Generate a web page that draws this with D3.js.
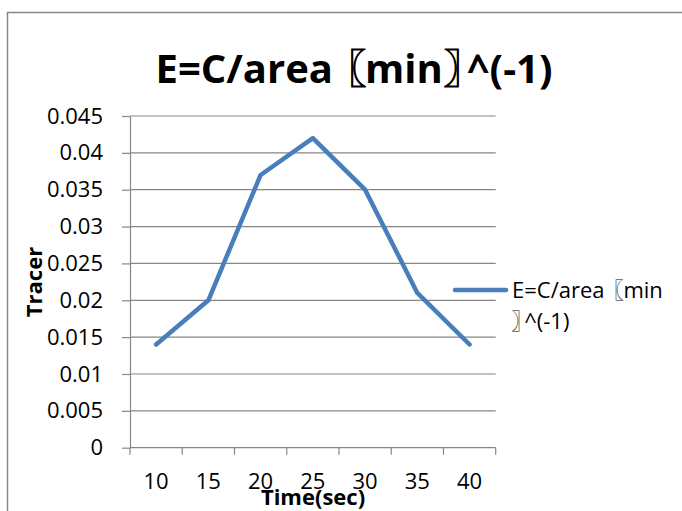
<html>
  <head>
    <meta charset="utf-8">
    <script src="https://d3js.org/d3.v7.min.js"></script>
    <style>
      body { margin: 0; background: #fff; }
      text { font-family: "Open Sans", "Noto Sans CJK SC", sans-serif; }
    </style>
  </head>
  <body>
    <svg width="682" height="511" id="svg1"></svg>
    <script>
    // data
    var categories = ["10", "15", "20", "25", "30", "35", "40"];
    var tracer = [0.014, 0.02, 0.037, 0.042, 0.035, 0.021, 0.014];
    var yTicks = [0, 0.005, 0.01, 0.015, 0.02, 0.025, 0.03, 0.035, 0.04, 0.045];
    var yTickLabels = ["0", "0.005", "0.01", "0.015", "0.02", "0.025", "0.03", "0.035", "0.04", "0.045"];
    var seriesName = "E=C/area \u3016min\u3017^(-1)";

    var svg = d3.select("#svg1");
    var grey = "#868686";

    // chart border (only top and left edges are in view)
    svg.append("rect")
      .attr("x", 7.5).attr("y", 12.5)
      .attr("width", 720).attr("height", 560)
      .attr("fill", "none")
      .attr("stroke", grey)
      .attr("stroke-width", 1.5);

    var plotLeft = 130, plotRight = 495.7, plotTop = 116, plotBottom = 447.7;

    var x = d3.scaleBand().domain(categories).range([plotLeft, plotRight]).padding(0);
    var y = d3.scaleLinear().domain([0, 0.045]).range([plotBottom, plotTop]);

    // gridlines
    svg.append("g")
      .selectAll("line")
      .data(yTicks.slice(1))
      .enter().append("line")
      .attr("x1", plotLeft).attr("x2", plotRight)
      .attr("y1", function(d) { return y(d); })
      .attr("y2", function(d) { return y(d); })
      .attr("stroke", grey)
      .attr("stroke-width", 1.2);

    // y axis
    var yAxis = svg.append("g")
      .attr("transform", "translate(" + plotLeft + ",0)")
      .call(d3.axisLeft(y).tickValues(yTicks).tickSize(8).tickSizeOuter(0).tickPadding(19)
        .tickFormat(function(d, i) { return yTickLabels[i]; }));
    yAxis.select(".domain").attr("stroke", grey).attr("stroke-width", 1.2);
    yAxis.selectAll(".tick line").attr("stroke", grey).attr("stroke-width", 1.2);
    yAxis.selectAll(".tick text")
      .attr("font-size", "22px")
      .attr("font-family", "Open Sans")
      .attr("fill", "#000");

    // x axis: ticks on the band edges, labels in the middle
    var xAxis = svg.append("g")
      .attr("transform", "translate(0," + plotBottom + ")");
    xAxis.append("line")
      .attr("x1", plotLeft).attr("x2", plotRight)
      .attr("stroke", grey).attr("stroke-width", 1.2);
    var edges = categories.map(function(c) { return x(c); }).concat([plotRight]);
    xAxis.selectAll(".xtick")
      .data(edges)
      .enter().append("line")
      .attr("class", "xtick")
      .attr("x1", function(d) { return d; })
      .attr("x2", function(d) { return d; })
      .attr("y1", 0).attr("y2", 7)
      .attr("stroke", grey).attr("stroke-width", 1.2);
    xAxis.selectAll(".xlabel")
      .data(categories)
      .enter().append("text")
      .attr("class", "xlabel")
      .attr("x", function(d) { return x(d) + x.bandwidth() / 2; })
      .attr("y", 41.5)
      .attr("text-anchor", "middle")
      .attr("font-size", "22px")
      .text(function(d) { return d; });

    // the series line
    var line = d3.line()
      .x(function(d, i) { return x(categories[i]) + x.bandwidth() / 2; })
      .y(function(d) { return y(d); });

    svg.append("path")
      .datum(tracer)
      .attr("d", line)
      .attr("fill", "none")
      .attr("stroke", "#4a7ebb")
      .attr("stroke-width", 4.5)
      .attr("stroke-linejoin", "round")
      .attr("stroke-linecap", "round");

    // writes the series name, pulling the wide CJK brackets in tight
    function bracketText(sel, parts, heavy) {
      parts.forEach(function(p) {
        var t = sel.append("tspan").text(p[0]);
        if (p[1]) t.attr("dx", p[1] + "em");
        if (heavy && (p[0] == "\u3016" || p[0] == "\u3017")) {
          t.attr("stroke", "#000").attr("stroke-width", heavy);
        }
      });
    }

    // title
    var title = svg.append("text")
      .attr("x", 354)
      .attr("y", 83)
      .attr("text-anchor", "middle")
      .attr("font-size", "40px")
      .attr("font-weight", "bold");
    bracketText(title, [["E=C/area "], ["\u3016", -0.42], ["min", -0.04], ["\u3017", 0.02], ["^(-1)", -0.42]], 1);

    // axis titles
    svg.append("text")
      .attr("transform", "translate(42,282) rotate(-90)")
      .attr("text-anchor", "middle")
      .attr("font-size", "22px")
      .attr("font-weight", "bold")
      .text("Tracer");

    svg.append("text")
      .attr("x", 313)
      .attr("y", 505)
      .attr("text-anchor", "middle")
      .attr("font-size", "22px")
      .attr("font-weight", "bold")
      .text("Time(sec)");

    // legend
    svg.append("line")
      .attr("x1", 455).attr("x2", 506)
      .attr("y1", 290).attr("y2", 290)
      .attr("stroke", "#4a7ebb")
      .attr("stroke-width", 4.5)
      .attr("stroke-linecap", "round");

    var legend1 = svg.append("text")
      .attr("x", 512)
      .attr("y", 298)
      .attr("font-size", "22px");
    bracketText(legend1, [["E=C/area "], ["\u3016", -0.38], ["min", -0.02]]);

    var legend2 = svg.append("text")
      .attr("x", 511)
      .attr("y", 329)
      .attr("font-size", "22px");
    bracketText(legend2, [["\u3017"], ["^(-1)", -0.4]]);
    </script>
  </body>
</html>
